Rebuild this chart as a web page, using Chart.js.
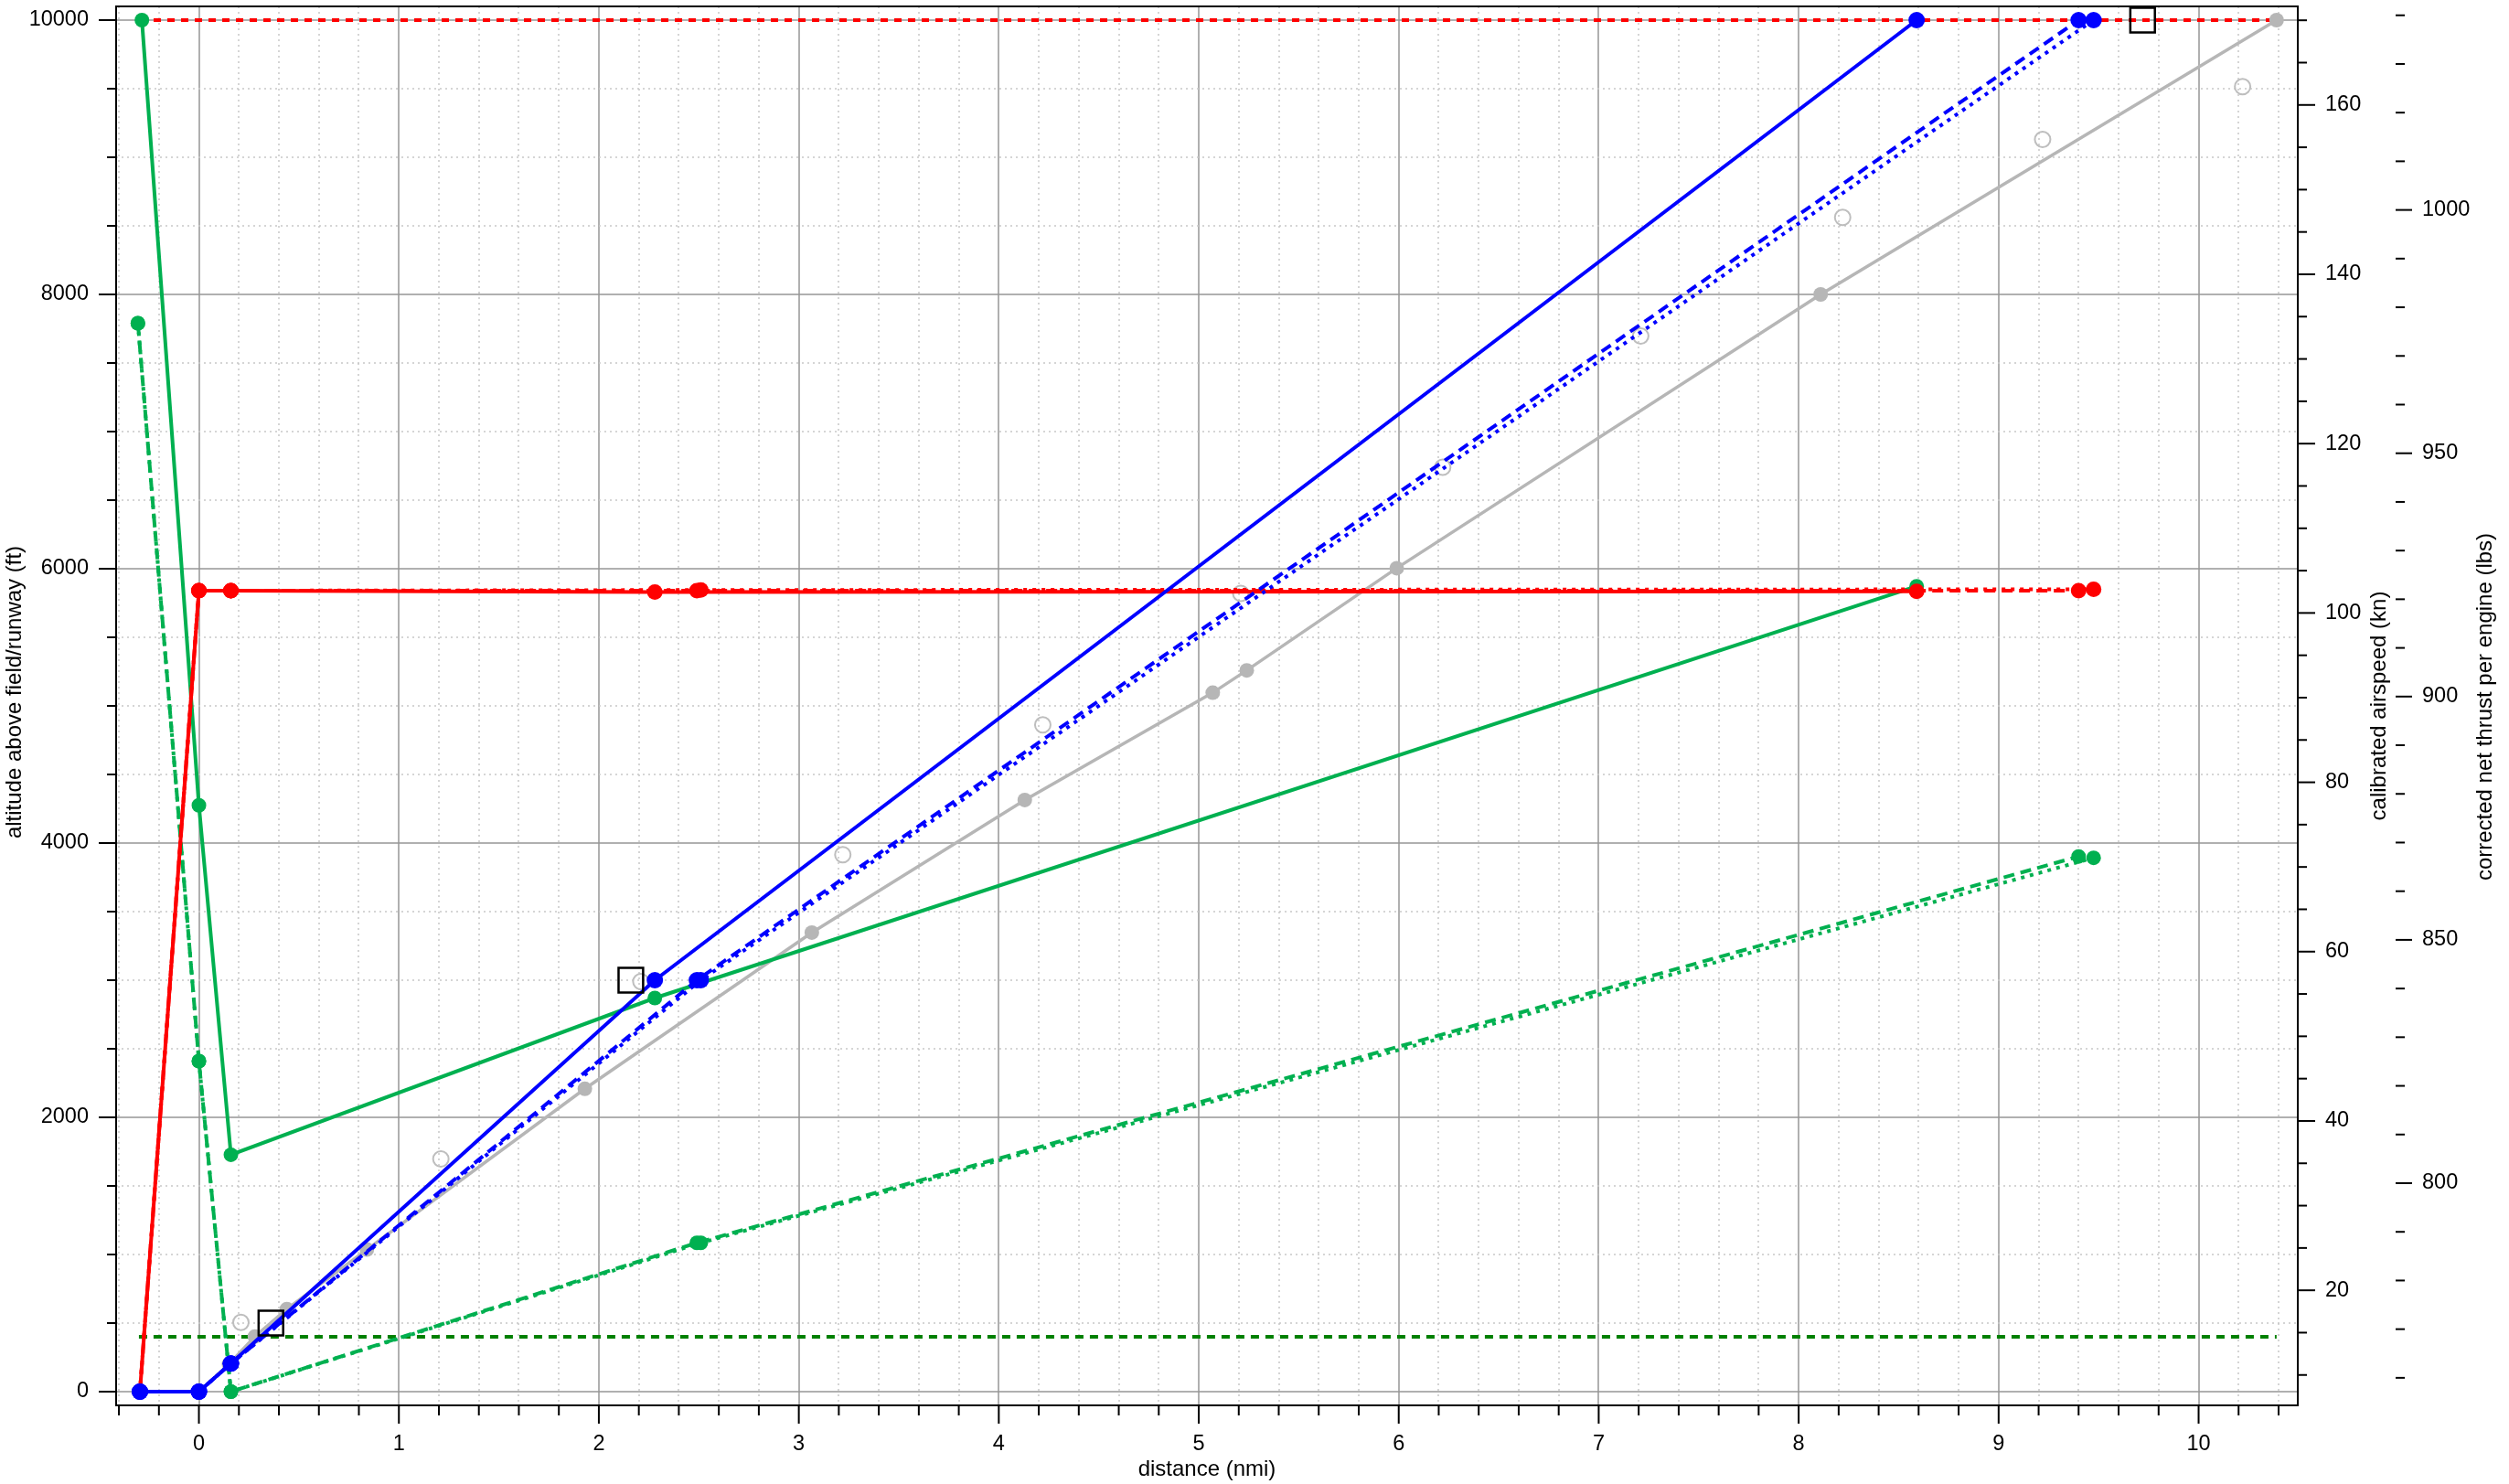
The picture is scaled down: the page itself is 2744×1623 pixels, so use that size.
<!DOCTYPE html>
<html>
<head>
    <title>Altitude, airspeed and thrust vs distance</title>
    <style>
        body { margin: 0; background: #ffffff; }
        canvas { display: block; }
    </style>
</head>
<body>
    <canvas id="profileChart" width="2744" height="1623"></canvas>
    <script src="https://cdn.jsdelivr.net/npm/chart.js"></script>
    <script>
        // axis ticks
        const xTickLabels = [0, 1, 2, 3, 4, 5, 6, 7, 8, 9, 10];
        const altTickLabels = [0, 2000, 4000, 6000, 8000, 10000];
        const knTickLabels = [20, 40, 60, 80, 100, 120, 140, 160];
        const lbsTickLabels = [800, 850, 900, 950, 1000];

        // series, [distance nmi, value on the altitude scale]
        const blueSolid = [[-0.295, 0], [0, 0], [0.16, 205], [2.28, 3000], [8.59, 10000]];
        const blueDashed = [[-0.295, 0], [0, 0], [0.16, 205], [2.49, 3000], [9.40, 10000]];
        const blueDotted = [[-0.295, 0], [0, 0], [0.16, 205], [2.51, 3000], [9.475, 10000]];

        const redSolid = [[-0.295, 0], [0, 5840], [0.16, 5840], [2.28, 5830], [8.59, 5835]];
        const redDashed = [[-0.295, 0], [0, 5840], [0.16, 5840], [2.49, 5840], [9.40, 5840]];
        const redDotted = [[-0.295, 0], [0, 5840], [0.16, 5840], [2.51, 5845], [9.475, 5850]];

        const greenSolid = [[-0.285, 10000], [0, 4275], [0.16, 1727], [2.28, 2870], [8.59, 5872]];
        const greenDashed = [[-0.305, 7790], [0, 2410], [0.16, 0], [2.49, 1085], [9.40, 3902]];
        const greenDotted = [[-0.305, 7790], [0, 2410], [0.16, 0], [2.51, 1085], [9.475, 3892]];

        const greyTrack = [[-0.295, 0], [0, 0], [0.15, 200], [0.28, 402], [0.44, 602], [0.84, 1036],
            [1.93, 2208], [3.065, 3347], [4.13, 4314], [5.07, 5096], [5.24, 5259], [5.99, 6004],
            [8.11, 8000], [10.39, 10000]];
        const greyOpen = [[0.21, 505], [1.21, 1697], [2.21, 2990], [3.22, 3915], [4.22, 4862],
            [5.21, 5820], [6.22, 6740], [7.21, 7697], [8.22, 8562], [9.22, 9130], [10.22, 9515]];
        const squareMarks = [[0.36, 500], [2.16, 3000], [9.72, 10000]];

        const refTop = [[-0.295, 10000], [10.39, 10000]];
        const refLow = [[-0.3, 400], [10.39, 400]];

        const FONT = "'Liberation Sans', Arial, sans-serif";
        const BLUE = '#0000ff', RED = '#ff0000', GREEN = '#00b050', DKGREEN = '#008000', GREY = '#b6b6b6';
        const DASH = [12, 7], DOT = [4, 6];

        function pts(arr) { return arr.map(p => ({ x: p[0], y: p[1] })); }
        function steps(a, b, s) {
            const out = [];
            for (let i = 0; a + i * s <= b + 1e-9; i++) out.push(Math.round((a + i * s) * 1000) / 1000);
            return out;
        }
        const xMinor = steps(-0.4, 10.4, 0.2);
        const altMinor = steps(0, 10000, 500);
        const knMinor = steps(10, 170, 5);
        const lbsMinor = steps(760, 1040, 10);

        function series(data, color, dash, width, radius) {
            return {
                data: pts(data), showLine: true, borderColor: color, borderWidth: width,
                borderDash: dash, pointRadius: radius, pointBackgroundColor: color,
                pointBorderWidth: 0, pointHoverRadius: radius, yAxisID: 'y'
            };
        }

        // keep chart area where the reference has it
        function noPad(s) {
            s.paddingTop = 0; s.paddingBottom = 0; s.paddingLeft = 0; s.paddingRight = 0;
        }

        const axisDecor = {
            id: 'axisDecor',
            beforeDatasetsDraw(chart) {
                const { ctx, chartArea: a, scales } = chart;
                ctx.save();
                ctx.beginPath();
                ctx.rect(a.left, a.top, a.right - a.left, a.bottom - a.top);
                ctx.clip();
                ctx.strokeStyle = '#c8c8c8';
                ctx.lineWidth = 1.5;
                ctx.setLineDash([2, 4]);
                xMinor.forEach(v => {
                    if (xTickLabels.includes(v)) return;
                    const px = Math.round(scales.x.getPixelForValue(v));
                    ctx.beginPath(); ctx.moveTo(px, a.top); ctx.lineTo(px, a.bottom); ctx.stroke();
                });
                altMinor.forEach(v => {
                    if (altTickLabels.includes(v)) return;
                    const py = Math.round(scales.y.getPixelForValue(v));
                    ctx.beginPath(); ctx.moveTo(a.left, py); ctx.lineTo(a.right, py); ctx.stroke();
                });
                ctx.restore();
            },
            afterDraw(chart) {
                const { ctx, chartArea: a, scales } = chart;
                ctx.save();
                ctx.strokeStyle = '#000';
                ctx.lineWidth = 2;
                ctx.setLineDash([]);
                ctx.strokeRect(a.left, a.top, a.right - a.left, a.bottom - a.top);

                function tick(x1, y1, x2, y2) {
                    ctx.beginPath(); ctx.moveTo(x1, y1); ctx.lineTo(x2, y2); ctx.stroke();
                }
                xMinor.forEach(v => {
                    const px = scales.x.getPixelForValue(v);
                    tick(px, a.bottom, px, a.bottom + (xTickLabels.includes(v) ? 20 : 11));
                });
                altMinor.forEach(v => {
                    const py = scales.y.getPixelForValue(v);
                    tick(a.left, py, a.left - (altTickLabels.includes(v) ? 19 : 10), py);
                });
                knMinor.forEach(v => {
                    const py = scales.y2.getPixelForValue(v);
                    tick(a.right, py, a.right + (knTickLabels.includes(v) ? 19 : 10), py);
                });
                const l3 = scales.y3.left;
                lbsMinor.forEach(v => {
                    const py = scales.y3.getPixelForValue(v);
                    tick(l3, py, l3 + (lbsTickLabels.includes(v) ? 18 : 10), py);
                });

                ctx.fillStyle = '#000';
                ctx.font = '24px ' + FONT;
                ctx.textAlign = 'center';
                ctx.textBaseline = 'middle';
                ctx.fillText('distance (nmi)', (a.left + a.right) / 2, 1607);
                const vTitle = (text, x, y) => {
                    ctx.save();
                    ctx.translate(x, y);
                    ctx.rotate(-Math.PI / 2);
                    ctx.fillText(text, 0, 0);
                    ctx.restore();
                };
                vTitle('altitude above field/runway (ft)', 16, 757);
                vTitle('calibrated airspeed (kn)', 2602, 772);
                vTitle('corrected net thrust per engine (lbs)', 2718, 773);
                ctx.restore();
            }
        };

        const tickFont = { family: FONT, size: 23.5 };
        const plain = v => String(v);

        new Chart(document.getElementById('profileChart').getContext('2d'), {
            type: 'scatter',
            data: {
                datasets: [
                    {
                        data: pts(squareMarks), showLine: false, pointStyle: 'rect', pointRadius: 19,
                        pointBorderColor: '#000', pointBorderWidth: 2.5,
                        pointBackgroundColor: 'rgba(0,0,0,0)', yAxisID: 'y'
                    },
                    series(blueSolid, BLUE, [], 4, 9),
                    series(blueDashed, BLUE, DASH, 4, 9),
                    series(blueDotted, BLUE, DOT, 4, 9),
                    series(redSolid, RED, [], 4, 8.5),
                    series(redDashed, RED, DASH, 4, 8.5),
                    series(redDotted, RED, DOT, 4, 8.5),
                    series(greenSolid, GREEN, [], 4, 8),
                    series(greenDashed, GREEN, DASH, 4, 8),
                    series(greenDotted, GREEN, DOT, 4, 8),
                    {
                        data: pts(greyOpen), showLine: false, pointRadius: 8.5,
                        pointBorderColor: '#bebebe', pointBorderWidth: 2,
                        pointBackgroundColor: 'rgba(0,0,0,0)', yAxisID: 'y'
                    },
                    series(greyTrack, GREY, [], 3.5, 8),
                    series(refTop, RED, [8, 7], 4, 0),
                    series(refLow, DKGREEN, [9, 7], 4, 0)
                ]
            },
            options: {
                responsive: false,
                animation: false,
                devicePixelRatio: 1,
                layout: { autoPadding: false, padding: { top: 7, left: 0, right: 0, bottom: 0 } },
                plugins: {
                    legend: { display: false },
                    tooltip: { enabled: false }
                },
                scales: {
                    x: {
                        type: 'linear', position: 'bottom', min: -0.414, max: 10.496,
                        afterBuildTicks: s => { s.ticks = xTickLabels.map(v => ({ value: v })); },
                        afterFit: s => { s.height = 86; noPad(s); },
                        grid: { color: 'rgba(150,150,150,0.75)', lineWidth: 2, drawTicks: false },
                        border: { display: false },
                        ticks: { font: tickFont, color: '#000', padding: 28, maxRotation: 0, autoSkip: false, callback: plain }
                    },
                    y: {
                        type: 'linear', position: 'left', min: -100, max: 10100,
                        afterBuildTicks: s => { s.ticks = altTickLabels.map(v => ({ value: v })); },
                        afterFit: s => { s.width = 127; noPad(s); },
                        grid: { color: 'rgba(150,150,150,0.75)', lineWidth: 2, drawTicks: false },
                        border: { display: false },
                        ticks: { font: tickFont, color: '#000', padding: 30, autoSkip: false, callback: plain }
                    },
                    y2: {
                        type: 'linear', position: 'right', min: 6.41, max: 171.64, weight: 0,
                        afterBuildTicks: s => { s.ticks = knTickLabels.map(v => ({ value: v })); },
                        afterFit: s => { s.width = 107; noPad(s); },
                        grid: { display: false, drawOnChartArea: false, drawTicks: false },
                        border: { display: false },
                        ticks: { font: tickFont, color: '#000', padding: 30, autoSkip: false, callback: plain }
                    },
                    y3: {
                        type: 'linear', position: 'right', min: 754.34, max: 1041.83, weight: 1,
                        afterBuildTicks: s => { s.ticks = lbsTickLabels.map(v => ({ value: v })); },
                        afterFit: s => { s.width = 124; noPad(s); },
                        grid: { display: false, drawOnChartArea: false, drawTicks: false },
                        border: { display: false },
                        ticks: { font: tickFont, color: '#000', padding: 29, autoSkip: false, callback: plain }
                    }
                }
            },
            plugins: [axisDecor]
        });
    </script>
</body>
</html>
